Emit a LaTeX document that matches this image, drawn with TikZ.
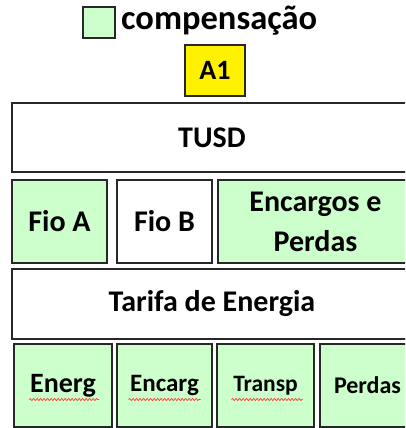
\documentclass[tikz,border=0pt]{standalone}
\usepackage{fontspec}
\setmainfont{Carlito}
\usepackage{tikz}
\usetikzlibrary{positioning,decorations.pathmorphing}
\definecolor{compgreen}{RGB}{204,255,204}
\definecolor{boxline}{RGB}{40,40,40}

\begin{document}
\begin{tikzpicture}[x=1pt,y=-1pt,
      cell/.style={rectangle,draw=boxline,line width=1.6pt,inner sep=0pt,text=black,
        font=\fontsize{30}{40}\selectfont\bfseries,align=center},
      comp/.style={cell,fill=compgreen},
      squiggle/.style={red!80,line width=0.7pt,decorate,
        decoration={snake,amplitude=1.1pt,segment length=3.5pt}}]
      \clip (0,0) rectangle (405,428);
      % legend
      \node[comp,minimum width=32pt,minimum height=31pt] at (99,22.5) (leg) {};
      \node[anchor=west,inner sep=0pt,font=\fontsize{34.5}{36}\selectfont\bfseries] at (121,21) (legtxt) {compensação};
      \node[cell,fill=yellow,minimum width=60pt,minimum height=51pt,
            font=\fontsize{28}{30}\selectfont\bfseries] at (215,70.5) (a1) {A1};
      % tusd
      \node[cell,minimum width=400pt,minimum height=69pt] at (212,137.5) (tusd) {TUSD};
      \node[comp,minimum width=95pt,minimum height=83pt]  at (59.5,221.5)  (fa) {Fio A};
      \node[cell,minimum width=95pt,minimum height=83pt]  at (164.5,221.5) (fb) {Fio B};
      \node[comp,minimum width=195pt,minimum height=83pt] at (315.5,221.5) (ep) {Encargos e\\Perdas};
      % energia
      \node[cell,minimum width=400pt,minimum height=70pt] at (212,304) (te) {Tarifa de Energia};
      \node[comp,minimum width=98pt,minimum height=83pt,font=\fontsize{28}{30}\selectfont\bfseries]
            at (63,385.5) (e1) {Energ};
      \node[comp,minimum width=95pt,minimum height=83pt,font=\fontsize{25}{30}\selectfont\bfseries]
            at (164.5,385.5) (e2) {Encarg};
      \node[comp,minimum width=97pt,minimum height=83pt,font=\fontsize{23.5}{30}\selectfont\bfseries]
            at (265.5,385.5) (e3) {Transp};
      \node[comp,minimum width=95pt,minimum height=83pt,font=\fontsize{24}{30}\selectfont\bfseries]
            at (367.5,385.5) (e4) {Perdas};
      % spell marks
      \draw[squiggle] ([xshift=-34pt,yshift=-14pt]e1.center) -- ([xshift=36pt,yshift=-14pt]e1.center);
      \draw[squiggle] ([xshift=-36pt,yshift=-14pt]e2.center) -- ([xshift=36pt,yshift=-14pt]e2.center);
      \draw[squiggle] ([xshift=-34pt,yshift=-14pt]e3.center) -- ([xshift=37pt,yshift=-14pt]e3.center);
\end{tikzpicture}
\end{document}
